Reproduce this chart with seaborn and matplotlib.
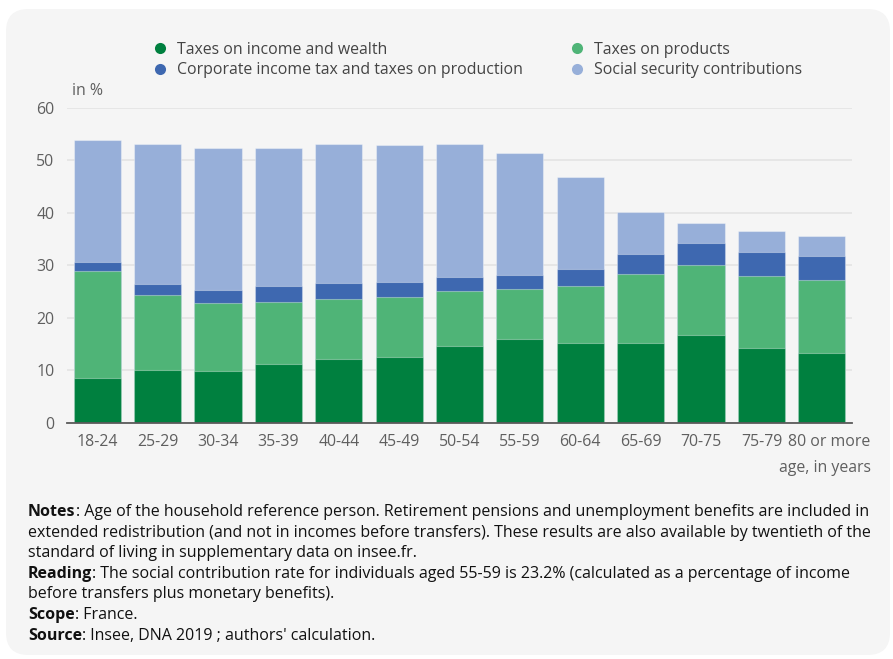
import matplotlib
matplotlib.use("Agg")
import matplotlib.pyplot as plt
import matplotlib.transforms as mtransforms
from matplotlib.patches import FancyBboxPatch
from matplotlib.lines import Line2D
import numpy as np
import pandas as pd
import seaborn as sns

# Age groups of the household reference person
ages = ["18-24", "25-29", "30-34", "35-39", "40-44", "45-49", "50-54",
        "55-59", "60-64", "65-69", "70-75", "75-79", "80 or more"]

# Levies as a share of income before transfers plus monetary benefits (in %)
income_wealth = [8.6, 10.0, 9.8, 11.2, 12.1, 12.5, 14.6, 15.9, 15.3, 15.2, 16.7, 14.2, 13.4]
products = [20.3, 14.3, 13.0, 11.9, 11.5, 11.5, 10.5, 9.5, 10.7, 13.1, 13.3, 13.8, 13.7]
corporate = [1.7, 2.1, 2.4, 3.0, 3.0, 2.9, 2.7, 2.8, 3.2, 3.8, 4.2, 4.6, 4.7]
social = [23.2, 26.7, 27.1, 26.2, 26.5, 26.0, 25.3, 23.2, 17.5, 8.0, 3.9, 4.0, 3.7]

series_names = ["Taxes on income and wealth", "Taxes on products",
                "Corporate income tax and taxes on production",
                "Social security contributions"]
colors = ["#00803f", "#4fb477", "#3e68b0", "#97afd9"]

y_ticks = [0, 10, 20, 30, 40, 50, 60]

sns.set_theme(style="white")
plt.rcParams["font.family"] = ["Open Sans", "DejaVu Sans"]

df = pd.DataFrame({"age": ages, "income": income_wealth, "products": products,
                   "corporate": corporate, "social": social})
df["c1"] = df["income"]
df["c2"] = df["c1"] + df["products"]
df["c3"] = df["c2"] + df["corporate"]
df["c4"] = df["c3"] + df["social"]

W, H = 893, 659
FS = 11.4
fig = plt.figure(figsize=(W / 100, H / 100), dpi=100, facecolor="white")

# Rounded grey card behind everything
panel = FancyBboxPatch((6 / W, 4 / H), 884 / W, 646 / H,
                       boxstyle="round,pad=0,rounding_size=0.025",
                       transform=fig.transFigure, facecolor="#f5f5f5",
                       edgecolor="none", zorder=-10, mutation_aspect=W / H)
fig.patches.append(panel)

ax = fig.add_axes([67 / W, (H - 423) / H, (852 - 67) / W, (423 - 107.5) / H])
ax.set_facecolor("none")
ax.set_zorder(1)

# Stacked bars drawn as overlapping cumulative totals, tallest first
for col, color in zip(["c4", "c3", "c2", "c1"], colors[::-1]):
    sns.barplot(data=df, x="age", y=col, color=color, width=0.78,
                saturation=1, ax=ax, edgecolor=(1, 1, 1, 0.35), linewidth=0.8,
                zorder=2)

ax.set_ylim(0, 60)
ax.set_xlim(-0.5, len(ages) - 0.5)
ax.set_yticks(y_ticks)
ax.set_yticklabels([str(v) for v in y_ticks])
ax.yaxis.grid(True, color="#e3e3e3", linewidth=1.2, zorder=0)
ax.set_axisbelow(True)
for s in ["top", "right", "left"]:
    ax.spines[s].set_visible(False)
ax.spines["bottom"].set_color("#5a5a5a")
ax.spines["bottom"].set_linewidth(1.3)
ax.spines["bottom"].set_zorder(5)
ax.tick_params(axis="both", length=0, labelsize=FS, labelcolor="#5f5f5f")
ax.tick_params(axis="x", pad=8)
ax.tick_params(axis="y", pad=9)
ax.set_xlabel("")
ax.set_ylabel("")

# Nudge the long last category label right so it clears its neighbour
last = ax.get_xticklabels()[-1]
last.set_transform(last.get_transform() +
                   mtransforms.ScaledTranslation(7 / 100, 0, fig.dpi_scale_trans))

fig.text(72 / W, 1 - 91 / H, "in %", fontsize=FS, color="#5f5f5f",
         ha="left", va="center")
fig.text(871 / W, 1 - 468 / H, "age, in years", fontsize=FS, color="#5f5f5f",
         ha="right", va="center")

# Legend: two columns, two rows
handles = [Line2D([], [], linestyle="none", marker="o", markersize=8,
                  markerfacecolor=c, markeredgecolor="none") for c in colors]
order = [0, 2, 1, 3]
fig.legend([handles[i] for i in order], [series_names[i] for i in order],
           ncol=2, loc="center left", bbox_to_anchor=(153 / W, 1 - 60 / H),
           frameon=False, fontsize=FS, labelcolor="#444444",
           handletextpad=0.6, columnspacing=3.0, labelspacing=0.3,
           handlelength=0.9, borderpad=0, borderaxespad=0)

# Notes block with bold lead words
renderer = fig.canvas.get_renderer()


def rich_line(x_px, y_px, runs, size=11.5):
    x = x_px / W
    for txt, bold in runs:
        t = fig.text(x, 1 - y_px / H, txt, fontsize=size, color="#111111",
                     fontweight="bold" if bold else "normal",
                     ha="left", va="center")
        bb = t.get_window_extent(renderer)
        x = bb.x1 / W


lines = [
    [("Notes", True), (": Age of the household reference person. Retirement pensions and unemployment benefits are included in", False)],
    [("extended redistribution (and not in incomes before transfers). These results are also available by twentieth of the", False)],
    [("standard of living in supplementary data on insee.fr.", False)],
    [("Reading", True), (": The social contribution rate for individuals aged 55-59 is 23.2% (calculated as a percentage of income", False)],
    [("before transfers plus monetary benefits).", False)],
    [("Scope", True), (": France.", False)],
    [("Source", True), (": Insee, DNA 2019 ; authors' calculation.", False)],
]
y0 = 512
for i, runs in enumerate(lines):
    rich_line(28, y0 + i * 20.6, runs)

fig.savefig("out.png", dpi=100, facecolor="white")
